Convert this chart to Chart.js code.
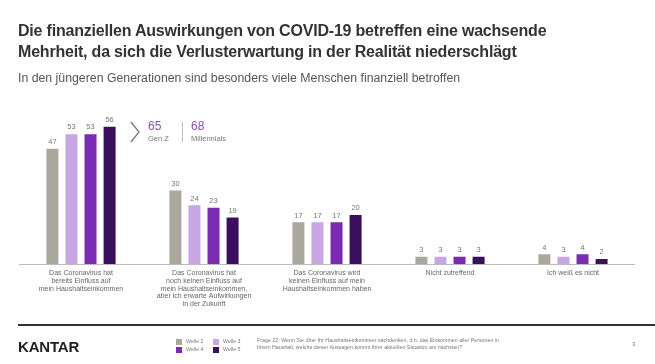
<!DOCTYPE html>
<html><head><meta charset="utf-8">
<script src="https://cdn.jsdelivr.net/npm/chart.js@4/dist/chart.umd.min.js"></script>
<style>
html,body{margin:0;padding:0;background:#fff;}
body{width:655px;height:364px;position:relative;overflow:hidden;font-family:"Liberation Sans",Arial,sans-serif;}
#c{position:absolute;left:0;top:0;}
.t{position:absolute;white-space:nowrap;}
</style></head><body>
<canvas id="c" width="655" height="364"></canvas>
<div class="t" style="left:18px;top:20px;font-size:16px;font-weight:bold;color:#333;line-height:21px;letter-spacing:-0.2px">Die finanziellen Auswirkungen von COVID-19 betreffen eine wachsende<br>Mehrheit, da sich die Verlusterwartung in der Realität niederschlägt</div>
<div class="t" style="left:18px;top:71px;font-size:12.3px;color:#555;">In den jüngeren Generationen sind besonders viele Menschen finanziell betroffen</div>
<svg class="t" style="left:128px;top:120px" width="14" height="24"><polyline points="3,2 11,12 3,22" fill="none" stroke="#777" stroke-width="1.3"/></svg>
<div class="t" style="left:148px;top:119px;font-size:12px;color:#8a4fb5;">65</div>
<div class="t" style="left:148px;top:134px;font-size:7.5px;color:#777;">Gen Z</div>
<div class="t" style="left:182px;top:122px;width:1px;height:20px;background:#bbb;"></div>
<div class="t" style="left:191px;top:119px;font-size:12px;color:#8a4fb5;">68</div>
<div class="t" style="left:191px;top:134px;font-size:7.5px;color:#777;">Millennials</div>
<div class="t" style="left:18px;top:324px;width:637px;height:2px;background:#333;"></div>
<div class="t" style="left:18px;top:338px;font-size:15px;font-weight:bold;color:#222;letter-spacing:-0.2px;">KANTAR</div>
<div id="leg"></div>
<div class="t" style="left:257px;top:337px;font-size:5.3px;color:#777;line-height:7px;">Frage 22: Wenn Sie über Ihr Haushaltseinkommen nachdenken, d.h. das Einkommen aller Personen in<br>Ihrem Haushalt, welche dieser Aussagen kommt Ihrer aktuellen Situation am nächsten?</div>
<div class="t" style="left:632px;top:341px;font-size:6px;color:#777;">3</div>
<script>
const categories = [
  ["Das Coronavirus hat","bereits Einfluss auf","mein Haushaltseinkommen"],
  ["Das Coronavirus hat","noch keinen Einfluss auf","mein Haushaltseinkommen,","aber ich erwarte Aufwirkungen","in der Zukunft"],
  ["Das Coronavirus wird","keinen Einfluss auf mein","Haushaltseinkommen haben"],
  ["Nicht zutreffend"],
  ["Ich weiß es nicht"]
];
const seriesNames = ["Welle 2","Welle 3","Welle 4","Welle 5"];
const seriesColors = ["#aaa89c","#c8a5e3","#7a2bb2","#3a0f5e"];
const welle2 = [47,30,17,3,4];
const welle3 = [53,24,17,3,3];
const welle4 = [53,23,17,3,4];
const welle5 = [56,19,20,3,2];
const values = [welle2,welle3,welle4,welle5];

// legend (2x2)
const leg = document.getElementById('leg');
const legPos = [[176,338],[213,338],[176,346],[213,346]];
seriesNames.forEach((n,i)=>{
  const d=document.createElement('div');d.className='t';
  d.style.left=legPos[i][0]+'px';d.style.top=legPos[i][1]+'px';
  d.style.fontSize='5.3px';d.style.color='#777';d.style.lineHeight='6px';
  d.innerHTML='<span style="display:inline-block;width:6px;height:6px;background:'+seriesColors[i]+';vertical-align:middle;margin-right:4px"></span>'+n;
  leg.appendChild(d);
});

const valueLabels = {
  id:'valueLabels',
  afterDatasetsDraw(chart){
    const ctx=chart.ctx;ctx.save();
    ctx.font='7.5px "Liberation Sans", Arial, sans-serif';ctx.fillStyle='#777';
    ctx.textAlign='center';ctx.textBaseline='bottom';
    chart.data.datasets.forEach((ds,i)=>{
      chart.getDatasetMeta(i).data.forEach((bar,j)=>{
        ctx.fillText(ds.data[j], bar.x, bar.y-3);
      });
    });
    ctx.restore();
  }
};

new Chart(document.getElementById('c'),{
  type:'bar',
  data:{labels:categories,datasets:values.map((v,i)=>({label:seriesNames[i],data:v,backgroundColor:seriesColors[i],barPercentage:0.63,categoryPercentage:0.62}))},
  options:{
    responsive:false,animation:false,
    layout:{padding:{left:19.5,right:20.5,top:117,bottom:0}},
    plugins:{legend:{display:false},tooltip:{enabled:false}},
    scales:{
      y:{display:false,min:0,max:60},
      x:{
        grid:{display:false,drawTicks:false},
        border:{display:true,color:'#bbb',width:1},
        ticks:{color:'#666',font:{size:7,family:'"Liberation Sans", Arial, sans-serif',lineHeight:1.12},padding:5,maxRotation:0,autoSkip:false},
        afterFit(s){s.height=100;}
      }
    }
  },
  plugins:[valueLabels]
});
</script>
</body></html>
